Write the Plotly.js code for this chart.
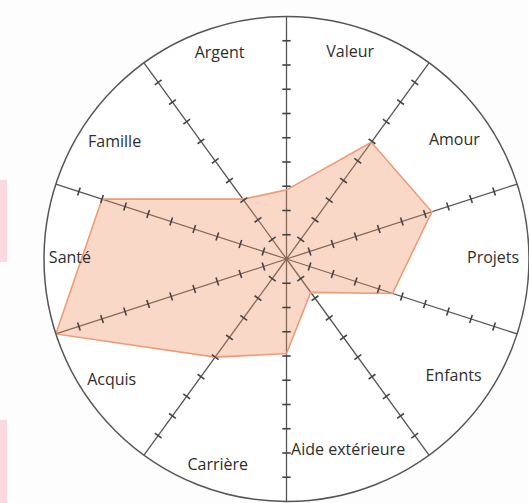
<!DOCTYPE html>
<html>
<head>
<meta charset="utf-8">
<script src="https://cdn.plot.ly/plotly-3.0.1.min.js"></script>
<style>html,body{margin:0;padding:0;background:#fdfdfd;}#chart{width:529px;height:503px;}</style>
</head>
<body>
<div id="chart"></div>
<script>
// Sector labels, placed by hand in the original (angle degrees CCW from east, radius on 0-10 scale)
const categories = ["Valeur", "Amour", "Projets", "Enfants", "Aide extérieure", "Carrière", "Acquis", "Santé", "Famille", "Argent"];
const labelAngles = [72.8, 35.2, 0, 324.7, 287.8, 251.6, 215, 180, 145.9, 108.1];
const labelRadii = [8.88, 8.47, 8.52, 8.44, 8.31, 8.98, 8.8, 8.93, 8.56, 8.88];

// Spokes (scale lines) and the values drawn on them (0-10)
const spokeAngles = [90, 54, 18, 342, 306, 270, 234, 198, 162, 126];
const spokeValues = [2.85, 5.95, 6.3, 4.6, 1.7, 3.9, 5.0, 10, 8.0, 3.05];

// Scale graduations on each spoke
const scaleTicks = [1, 2, 3, 4, 5, 6, 7, 8, 9];

const tickR = [], tickT = [], tickA = [];
spokeAngles.forEach(a => scaleTicks.forEach(v => { tickR.push(v); tickT.push(a); tickA.push(-a); }));

const polyT = spokeAngles.concat([spokeAngles[0]]);
const polyR = spokeValues.concat([spokeValues[0]]);

const traces = [
  {
    type: 'scatterpolar', mode: 'lines', r: polyR, theta: polyT,
    fill: 'toself', fillcolor: 'rgba(238,140,95,0.34)',
    line: {color: '#ee9c78', width: 1.6}, hoverinfo: 'skip'
  },
  {
    type: 'scatterpolar', mode: 'markers', r: tickR, theta: tickT,
    marker: {symbol: 'line-ns', size: 6, angle: tickA, line: {color: '#444', width: 1.6}},
    hoverinfo: 'skip'
  },
  {
    type: 'scatterpolar', mode: 'text', r: labelRadii, theta: labelAngles,
    text: categories, textposition: 'middle center',
    textfont: {family: 'Open Sans, sans-serif', size: 16, color: '#2e2e2e'},
    hoverinfo: 'skip', cliponaxis: false
  }
];

const cx = 288, cy = 259, R = 244, W = 529, H = 503;
const layout = {
  width: W, height: H, autosize: false,
  margin: {l: 0, r: 0, t: 0, b: 0},
  paper_bgcolor: '#fdfdfd', plot_bgcolor: '#fdfdfd',
  showlegend: false,
  polar: {
    domain: {x: [(cx - R) / W, (cx + R) / W], y: [(H - cy - R) / H, (H - cy + R) / H]},
    bgcolor: '#ffffff',
    radialaxis: {range: [0, 10], visible: false},
    angularaxis: {
      type: 'linear', thetaunit: 'degrees', rotation: 0, direction: 'counterclockwise',
      tickmode: 'array', tickvals: spokeAngles, showticklabels: false, ticks: '',
      showgrid: true, gridcolor: '#555', gridwidth: 1.3,
      showline: true, linecolor: '#555', linewidth: 1.5
    }
  },
  shapes: [
    {type: 'rect', xref: 'paper', yref: 'paper', x0: 0, x1: 7 / W, y0: 1 - 262 / H, y1: 1 - 180 / H, fillcolor: '#fcd8e0', line: {width: 0}, layer: 'below'},
    {type: 'rect', xref: 'paper', yref: 'paper', x0: 0, x1: 7 / W, y0: 0, y1: 1 - 420 / H, fillcolor: '#fcd8e0', line: {width: 0}, layer: 'below'}
  ]
};

Plotly.newPlot('chart', traces, layout, {displayModeBar: false, staticPlot: true});
</script>
</body>
</html>
